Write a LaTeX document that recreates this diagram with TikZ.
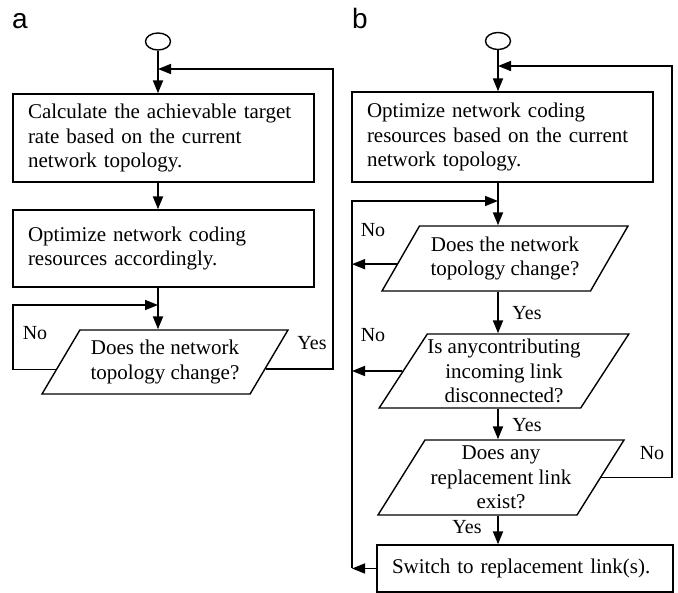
\documentclass[tikz,border=0pt]{standalone}
\usepackage{fontspec}
\setmainfont{Liberation Serif}
\newfontfamily\labelfont{Liberation Sans}
\usetikzlibrary{shapes.geometric, arrows.meta, positioning, calc}

\begin{document}
\begin{tikzpicture}[x=1pt, y=-1pt,
  stepbox/.style={rectangle, draw, line width=1.4pt, text width=271pt, align=left, inner xsep=15pt, inner ysep=0pt, font=\fontsize{21}{24.5}\selectfont},
  decision/.style={trapezium, trapezium left angle=49, trapezium right angle=131, trapezium stretches body, draw, line width=1.4pt, align=center, inner sep=0pt, minimum width=246pt, font=\fontsize{21}{24.5}\selectfont},
  terminal/.style={ellipse, draw, line width=1.4pt, minimum width=25pt, minimum height=17pt, inner sep=0pt},
  arrow/.style={-{Triangle[length=13pt,width=10pt]}, line width=2pt},
  feed/.style={-{Triangle[length=13pt,width=10pt]}, line width=1.6pt},
  answer/.style={font=\fontsize{20}{24}\selectfont, inner sep=0pt},
  panel/.style={font=\labelfont\fontsize{28}{30}\selectfont, anchor=base west, inner sep=0pt}
]
  \useasboundingbox (0,0) rectangle (678,593);

  % panel a
  \node[panel] (lbla) at (12,29) {a};
  \node[terminal] (sa) at (158,41.5) {};
  \node[stepbox, minimum height=88pt] (ra) at (163.5,138) {Calculate the achievable target\\rate based on the current\\network topology.};
  \node[stepbox, minimum height=77pt] (oa) at (163.5,248.5) {Optimize network coding\\resources accordingly.};
  \node[decision, minimum height=64pt] (qa) at (165,362) {Does the network\\topology change?};
  \coordinate (noa) at (13,305);
  \coordinate (yesa) at (333,69);

  \draw[arrow] (sa) -- (sa |- ra.north);
  \draw[arrow] (sa |- ra.south) -- (sa |- oa.north);
  \draw[arrow] (sa |- oa.south) -- (sa |- qa.north);
  \draw[feed] (qa.184) -- (qa.184 -| noa) -- (noa) -- (noa -| sa);
  \draw[feed] (qa.356) -- (qa.356 -| yesa) -- (yesa) -- (yesa -| sa);
  \node[answer] (noaa) at (35,333) {No};
  \node[answer] (yesaa) at (312,343) {Yes};

  % panel b
  \node[panel] (lblb) at (352,29) {b};
  \node[terminal] (sb) at (498,41) {};
  \node[stepbox, minimum height=90pt] (ob) at (502.5,137) {Optimize network coding\\resources based on the current\\network topology.};
  \node[decision, minimum height=65pt, trapezium left angle=49.3, trapezium right angle=130.7] (qb1) at (505,258.5) {Does the network\\topology change?};
  \node[decision, minimum height=74pt, trapezium left angle=53, trapezium right angle=127] (qb2) at (504,371) {Is anycontributing\\incoming link\\disconnected?};
  \node[decision, minimum height=75pt, trapezium left angle=53.3, trapezium right angle=126.7] (qb3) at (501,477.5) {Does any\\replacement link\\exist?};
  \node[stepbox, minimum height=47pt, text width=266pt] (wb) at (525,568.5) {Switch to replacement link(s).};
  \coordinate (nob) at (352,201);
  \coordinate (yesb) at (672,66);

  \draw[arrow] (sb) -- (sb |- ob.north);
  \draw[arrow] (sb |- ob.south) -- (sb |- qb1.north);
  \draw[arrow] (sb |- qb1.south) -- (sb |- qb2.north);
  \draw[arrow] (sb |- qb2.south) -- (sb |- qb3.north);
  \draw[arrow] (sb |- qb3.south) -- (sb |- wb.north);
  \draw[feed] (qb1.183) -- (qb1.183 -| nob);
  \draw[feed] (qb2.west) -- (qb2.west -| nob);
  \draw[feed] (wb.west) -- (wb.west -| nob);
  \draw[feed] (wb.west -| nob) -- (nob) -- (nob -| sb);
  \draw[feed] (qb3.east) -- (qb3.east -| yesb) -- (yesb) -- (yesb -| sb);
  \node[answer] (nob1) at (373,230) {No};
  \node[answer] (nob2) at (373,335) {No};
  \node[answer] (nob3) at (652,453) {No};
  \node[answer] (yesb1) at (527,313) {Yes};
  \node[answer] (yesb2) at (527,425) {Yes};
  \node[answer] (yesb3) at (467,527) {Yes};
\end{tikzpicture}
\end{document}
